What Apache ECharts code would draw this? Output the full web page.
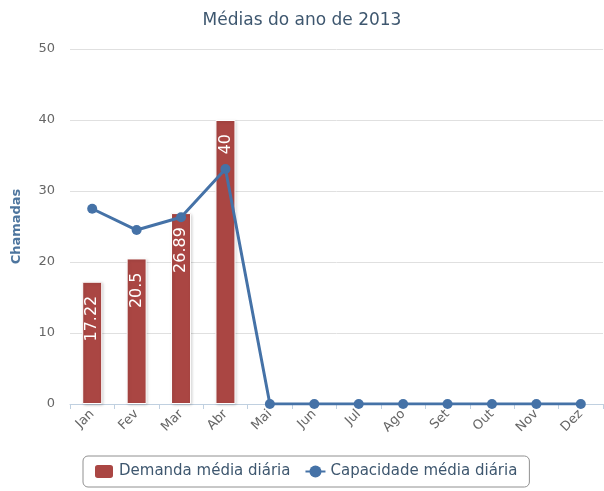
<!DOCTYPE html>
<html><head><meta charset="utf-8">
<script src="https://cdn.jsdelivr.net/npm/echarts@6/dist/echarts.min.js"></script>
<style>html,body{margin:0;padding:0;background:#fff}#c{width:604px;height:491px}</style>
</head><body><div id="c"></div>
<script>
const categories = ['Jan','Fev','Mar','Abr','Mai','Jun','Jul','Ago','Set','Out','Nov','Dez'];
const demanda = [17.22, 20.5, 26.89, 40, null, null, null, null, null, null, null, null];
const capacidade = [27.5, 24.5, 26.3, 33.1, 0, 0, 0, 0, 0, 0, 0, 0];
const yTicks = [0, 10, 20, 30, 40, 50];

const chart = echarts.init(document.getElementById('c'));
chart.setOption({
  animation: false,
  textStyle: {fontFamily: 'DejaVu Sans'},
  title: {
    text: 'Médias do ano de 2013', left: 'center', top: 7,
    textStyle: {color: '#3E576F', fontSize: 17, fontWeight: 'normal'}
  },
  grid: {left: 70, right: 1, top: 49, bottom: 87},
  xAxis: {
    type: 'category', data: categories,
    axisLine: {lineStyle: {color: '#C0D0E0'}},
    axisTick: {show: true, length: 5, lineStyle: {color: '#C0D0E0'}},
    axisLabel: {rotate: 45, color: '#666', fontSize: 13, margin: 8}
  },
  yAxis: {
    type: 'value', min: yTicks[0], max: yTicks[yTicks.length - 1], interval: 10,
    name: 'Chamadas', nameLocation: 'middle', nameGap: 47, nameRotate: 90,
    nameTextStyle: {color: '#4D759E', fontWeight: 'bold', fontSize: 13},
    axisLine: {show: false}, axisTick: {show: false},
    axisLabel: {color: '#666', fontSize: 13, margin: 15},
    splitLine: {lineStyle: {color: '#E0E0E0'}}
  },
  legend: {
    left: 83, top: 456,
    borderColor: '#909090', borderWidth: 1, borderRadius: 5,
    padding: [7, 12, 7, 10], itemGap: 14, itemWidth: 20, itemHeight: 15,
    textStyle: {color: '#3E576F', fontSize: 15},
    data: [{name: 'Demanda média diária', icon: 'roundRect'}, {name: 'Capacidade média diária'}]
  },
  series: [
    {
      name: 'Demanda média diária', type: 'bar', data: demanda, barWidth: 20,
      itemStyle: {color: '#AA4643', borderColor: '#fff', borderWidth: 1,
        shadowColor: 'rgba(0,0,0,0.18)', shadowBlur: 3, shadowOffsetX: 1, shadowOffsetY: 1},
      label: {show: true, position: 'insideTop', rotate: 90, align: 'right', verticalAlign: 'middle',
        distance: 14, color: '#fff', fontSize: 16}
    },
    {
      name: 'Capacidade média diária', type: 'line', data: capacidade,
      symbol: 'circle', symbolSize: 10,
      lineStyle: {color: '#4572A7', width: 3},
      itemStyle: {color: '#4572A7'}
    }
  ]
});
</script></body></html>
